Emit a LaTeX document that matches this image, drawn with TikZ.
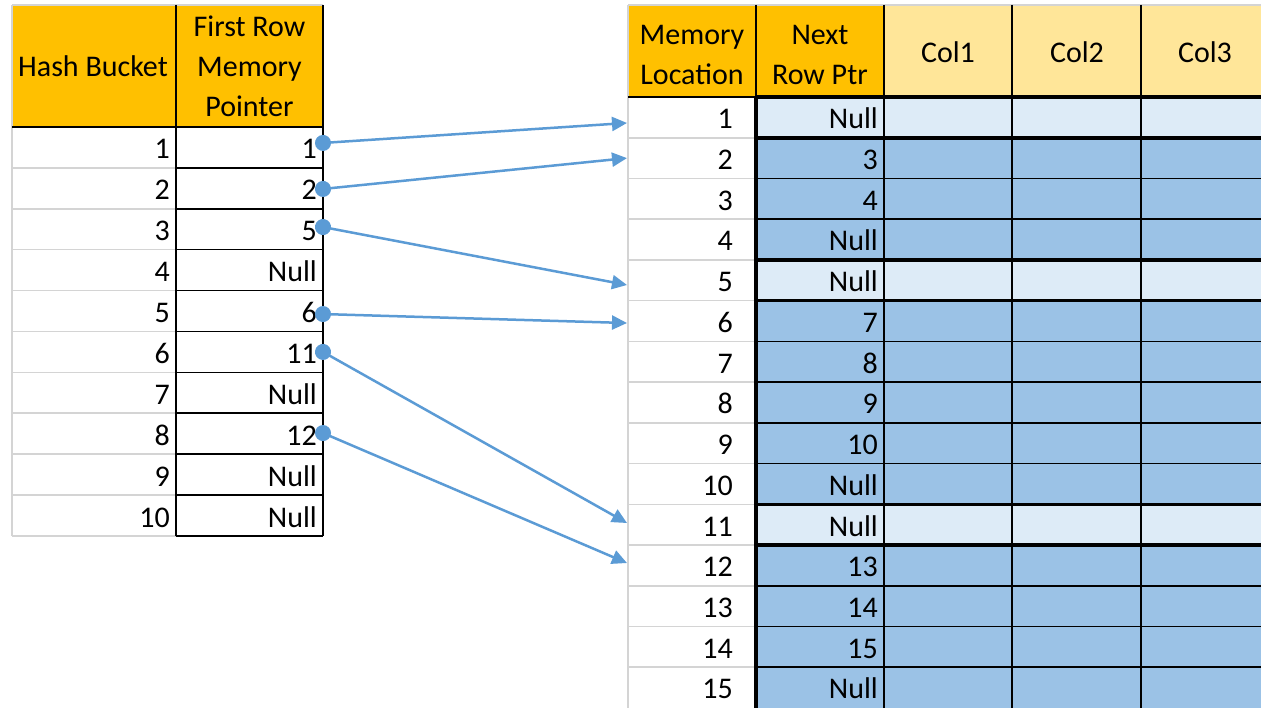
\documentclass[tikz,border=0pt]{standalone}
\usepackage{fontspec}
\setmainfont{Carlito}
\usetikzlibrary{arrows.meta}

\definecolor{hdrorange}{HTML}{FFC000}
\definecolor{hdrpale}{HTML}{FFE699}
\definecolor{rowlite}{HTML}{DDEBF7}
\definecolor{rowmid}{HTML}{9BC2E6}
\definecolor{gridgray}{HTML}{D4D4D4}
\definecolor{ptrblue}{HTML}{5B9BD5}

\begin{document}
\begin{tikzpicture}[x=1pt,y=-1pt,
  every node/.style={font=\fontsize{30}{40}\selectfont},
  cellbox/.style={anchor=north west, inner sep=0pt, outer sep=0pt, draw=none, minimum height=#1},
  celltext/.style={anchor=base east, inner sep=0pt},
  hdrtext/.style={inner sep=0pt, align=center},
  gridline/.style={draw=gridgray, line width=1.6pt},
  rule/.style={draw=black, line width=1.6pt},
  heavyrule/.style={draw=black, line width=3.6pt},
  ptr/.style={draw=ptrblue, line width=2.5pt, shorten <=-8pt,
    {Circle[length=16pt,width=16pt,ptrblue]}-{Triangle[length=15pt,width=14pt,ptrblue]}}
]
\useasboundingbox (0,0) rectangle (1261,708);
\fill[white] (0,0) rectangle (1261,708);
\clip (0,0) rectangle (1261,708);

% ---------- hash bucket table ----------
\node[cellbox=122, minimum width=164, fill=hdrorange] (hbk) at (12,5) {};
\node[cellbox=122, minimum width=147, fill=hdrorange] (hfp) at (176,5) {};
\node[anchor=base, inner sep=0pt] (hbk-t) at (93,77) {Hash Bucket};
\node[hdrtext] (hfp-t) at (249.5,66) {First Row\\Memory\\Pointer};

\foreach \i/\v in {1/1,2/2,3/5,4/Null,5/6,6/11,7/Null,8/12,9/Null,10/Null} {
  \pgfmathsetmacro\yt{127+(\i-1)*40.9}
  \node[cellbox=40.9, minimum width=164, fill=white] (b\i) at (12,\yt) {};
  \node[cellbox=40.9, minimum width=147, fill=white] (p\i) at (176,\yt) {};
  \node[celltext] (bt\i) at ([xshift=-6pt,yshift=9pt]b\i.south east) {\i};
  \node[celltext] (pt\i) at ([xshift=-6pt,yshift=9pt]p\i.south east) {\v};
}

% grid lines of the bucket column
\draw[gridline] (12,5) -- (323,5);
\draw[gridline] (12,5) -- (12,536);
\foreach \i in {1,...,10} {
  \pgfmathsetmacro\yb{127+\i*40.9}
  \draw[gridline] (12,\yb) -- (176,\yb);
}
% borders of the pointer column
\draw[rule] (12,127) -- (323,127);
\draw[rule] (176,5) -- (176,536);
\draw[rule] (323,5) -- (323,536);
\foreach \i in {1,...,10} {
  \pgfmathsetmacro\yb{127+\i*40.9}
  \draw[rule] (176,\yb) -- (323,\yb);
}

% ---------- row storage table ----------
\node[cellbox=92, minimum width=128, fill=hdrorange] (hml) at (628,5) {};
\node[cellbox=92, minimum width=128, fill=hdrorange] (hnr) at (756,5) {};
\node[cellbox=92, minimum width=128, fill=hdrpale] (hc1) at (884,5) {};
\node[cellbox=92, minimum width=129, fill=hdrpale] (hc2) at (1012,5) {};
\node[cellbox=92, minimum width=129, fill=hdrpale] (hc3) at (1141,5) {};
\node[hdrtext] (hml-t) at (692,55) {Memory\\Location};
\node[hdrtext] (hnr-t) at (820,55) {Next\\Row Ptr};
\node[anchor=base, inner sep=0pt] (hc1-t) at (948,63) {Col1};
\node[anchor=base, inner sep=0pt] (hc2-t) at (1077,63) {Col2};
\node[anchor=base, inner sep=0pt] (hc3-t) at (1205,63) {Col3};

\foreach \k/\v/\c in {1/Null/rowlite,2/3/rowmid,3/4/rowmid,4/Null/rowmid,
    5/Null/rowlite,6/7/rowmid,7/8/rowmid,8/9/rowmid,9/10/rowmid,10/Null/rowmid,
    11/Null/rowlite,12/13/rowmid,13/14/rowmid,14/15/rowmid,15/Null/rowmid} {
  \pgfmathsetmacro\yt{97+(\k-1)*40.733}
  \node[cellbox=40.733, minimum width=128, fill=white] (m\k) at (628,\yt) {};
  \node[cellbox=40.733, minimum width=128, fill=\c] (n\k) at (756,\yt) {};
  \node[cellbox=40.733, minimum width=128, fill=\c] (ca\k) at (884,\yt) {};
  \node[cellbox=40.733, minimum width=129, fill=\c] (cb\k) at (1012,\yt) {};
  \node[cellbox=40.733, minimum width=129, fill=\c] (cc\k) at (1141,\yt) {};
  \node[celltext] (mt\k) at ([xshift=-23pt,yshift=9pt]m\k.south east) {\k};
  \node[celltext] (nt\k) at ([xshift=-6pt,yshift=9pt]n\k.south east) {\v};
}

% grid lines of the location column
\draw[gridline] (628,5) -- (1261,5);
\draw[gridline] (628,5) -- (628,708);
\foreach \k in {1,...,14} {
  \pgfmathsetmacro\yb{97+\k*40.733}
  \draw[gridline] (628,\yb) -- (756,\yb);
}
% header borders
\draw[rule] (756,5) -- (756,97);
\draw[rule] (628,97) -- (756,97);
\foreach \xx in {884,1012,1141} {
  \draw[rule] (\xx,5) -- (\xx,708);
}
% thin rules inside each chain of rows
\foreach \k in {2,3,6,7,8,9,12,13,14} {
  \pgfmathsetmacro\yb{97+\k*40.733}
  \draw[rule] (756,\yb) -- (1261,\yb);
}
% heavy rules around each chain
\draw[heavyrule] (756,97) -- (1261,97);
\draw[heavyrule] (756,97) -- (756,708);
\foreach \k in {1,4,5,10,11} {
  \pgfmathsetmacro\yb{97+\k*40.733}
  \draw[heavyrule] (756,\yb) -- (1261,\yb);
}

% ---------- pointers from buckets to first rows ----------
\draw[ptr] ([yshift=4.5pt]p1.east)  -- ([xshift=-1pt,yshift=-5.6pt]m1.west);
\draw[ptr] ([yshift=-0.6pt]p2.east) -- ([xshift=-1pt]m2.west);
\draw[ptr] ([yshift=2.2pt]p3.east)  -- ([xshift=-1pt,yshift=-4.7pt]m5.west);
\draw[ptr] ([yshift=-3pt]p5.east)   -- ([xshift=-1pt,yshift=-2pt]m6.west);
\draw[ptr] (p6.east)                -- ([xshift=-1pt,yshift=1.7pt]m11.west);
\draw[ptr] ([yshift=0.7pt]p8.east)  -- ([xshift=-1pt,yshift=2.4pt]m12.west);
\end{tikzpicture}
\end{document}
